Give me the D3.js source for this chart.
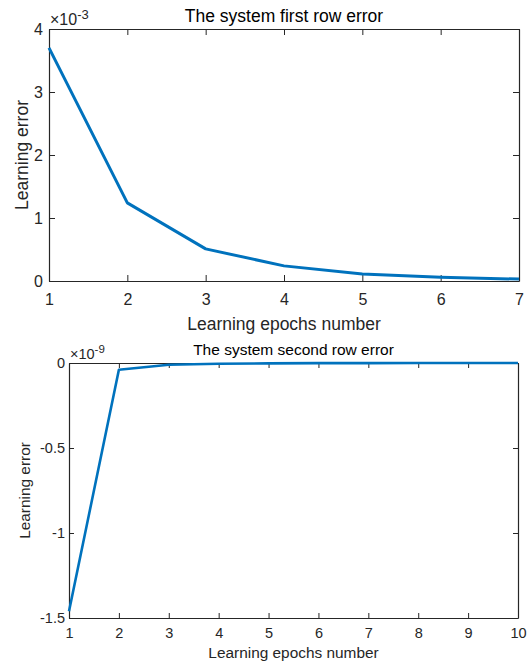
<!DOCTYPE html>
<html>
<head>
<meta charset="utf-8">
<script src="https://cdn.jsdelivr.net/npm/d3@7"></script>
<style>
  body { margin: 0; background: #fff; }
  svg { display: block; font-family: "Liberation Sans", Arial, Helvetica, sans-serif; }
</style>
</head>
<body>
<script>
// top chart: first row error (values in units of 1e-3)
const epochsTop = [1, 2, 3, 4, 5, 6, 7];
const errorTop = [3.70, 1.24, 0.51, 0.24, 0.11, 0.06, 0.03];
const yTicksTop = [0, 1, 2, 3, 4];

// bottom chart: second row error (values in units of 1e-9)
const epochsBottom = [1, 2, 3, 4, 5, 6, 7, 8, 9, 10];
const errorBottom = [-1.46, -0.04, -0.01, -0.004, -0.002, -0.001, -0.0006, -0.0004, -0.0002, -0.0001];
const yTicksBottom = [-1.5, -1, -0.5, 0];

const width = 530, height = 662;
const axisColor = '#262626';
const lineColor = '#0072BD';

const svg = d3.select('body').append('svg')
  .attr('width', width)
  .attr('height', height);

function drawPanel(o) {
  const x = d3.scaleLinear().domain(o.xDomain).range([o.left, o.right]);
  const y = d3.scaleLinear().domain(o.yDomain).range([o.bottom, o.top]);
  const g = svg.append('g');

  // axes, MATLAB style: ticks pointing inward on all four sides
  g.append('g')
    .attr('transform', `translate(0,${o.bottom})`)
    .call(d3.axisBottom(x).tickValues(o.xTicks).tickSizeInner(-o.tick).tickSizeOuter(0)
      .tickPadding(o.xPad).tickFormat(d3.format('d')));
  g.append('g')
    .attr('transform', `translate(${o.left},0)`)
    .call(d3.axisLeft(y).tickValues(o.yTicks).tickSizeInner(-o.tick).tickSizeOuter(0)
      .tickPadding(o.yPad).tickFormat(d => String(d).replace('-', '-')));
  g.append('g')
    .attr('transform', `translate(0,${o.top})`)
    .call(d3.axisTop(x).tickValues(o.xTicks).tickSizeInner(-o.tick).tickSizeOuter(0).tickFormat(''));
  g.append('g')
    .attr('transform', `translate(${o.right},0)`)
    .call(d3.axisRight(y).tickValues(o.yTicks).tickSizeInner(-o.tick).tickSizeOuter(0).tickFormat(''));

  g.selectAll('.domain').attr('stroke', axisColor).attr('stroke-width', 1.2);
  g.selectAll('.tick line').attr('stroke', axisColor);
  g.selectAll('.tick text').attr('fill', axisColor)
    .style('font-family', '"Liberation Sans", Arial, sans-serif')
    .style('font-size', o.tickFont + 'px');

  // the data line
  g.append('path')
    .datum(o.xs.map((d, i) => [d, o.ys[i]]))
    .attr('fill', 'none')
    .attr('stroke', lineColor)
    .attr('stroke-width', o.lineWidth)
    .attr('stroke-linejoin', 'round')
    .attr('d', d3.line().x(d => x(d[0])).y(d => y(d[1])));

  // title
  g.append('text')
    .attr('x', (o.left + o.right) / 2)
    .attr('y', o.titleY)
    .attr('text-anchor', 'middle')
    .attr('fill', '#000')
    .style('font-size', o.titleFont + 'px')
    .text(o.title);

  // exponent multiplier
  const ex = g.append('text')
    .attr('x', o.left + 1)
    .attr('y', o.top - 4)
    .attr('fill', axisColor)
    .style('font-size', o.tickFont + 'px');
  ex.append('tspan').text('\u00d710');
  ex.append('tspan').attr('dy', -6).style('font-size', (o.tickFont - 3) + 'px').text(o.exponent);

  // axis labels
  g.append('text')
    .attr('x', (o.left + o.right) / 2)
    .attr('y', o.xLabelY)
    .attr('text-anchor', 'middle')
    .attr('fill', axisColor)
    .style('font-size', o.labelFont + 'px')
    .text('Learning epochs number');

  g.append('text')
    .attr('transform', `translate(${o.yLabelX},${(o.top + o.bottom) / 2}) rotate(-90)`)
    .attr('text-anchor', 'middle')
    .attr('fill', axisColor)
    .style('font-size', o.labelFont + 'px')
    .text('Learning error');
}

drawPanel({
  left: 49, right: 519, top: 29, bottom: 281,
  xDomain: [1, 7], yDomain: [0, 4],
  xTicks: epochsTop, yTicks: yTicksTop,
  xs: epochsTop, ys: errorTop,
  tick: 6, xPad: 13, yPad: 6,
  tickFont: 16, labelFont: 17.5, titleFont: 17.5, lineWidth: 3,
  title: 'The system first row error', exponent: '-3',
  titleY: 22, xLabelY: 330, yLabelX: 28
});

drawPanel({
  left: 69, right: 518, top: 363, bottom: 618,
  xDomain: [1, 10], yDomain: [-1.5, 0],
  xTicks: epochsBottom, yTicks: yTicksBottom,
  xs: epochsBottom, ys: errorBottom,
  tick: 5, xPad: 10, yPad: 4,
  tickFont: 14.5, labelFont: 15.4, titleFont: 15.5, lineWidth: 2.6,
  title: 'The system second row error', exponent: '-9',
  titleY: 355, xLabelY: 658, yLabelX: 30
});
</script>
</body>
</html>
